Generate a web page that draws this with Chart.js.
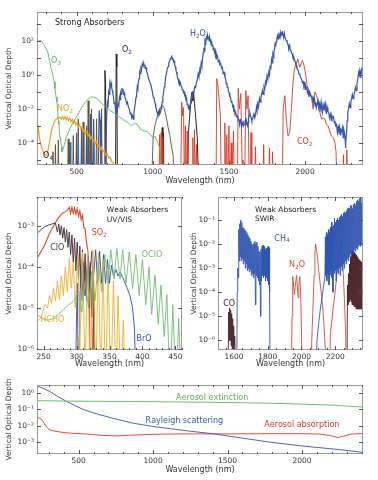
<!DOCTYPE html>
<html>
<head>
<meta charset="utf-8">
<script src="https://cdn.jsdelivr.net/npm/chart.js@4.4.1/dist/chart.umd.min.js"></script>
<style>
  html, body { margin: 0; padding: 0; background: #fff; }
  #wrap { position: relative; width: 378px; height: 480px; overflow: hidden; }
  .panel { position: absolute; }
</style>
</head>
<body>
<div id="wrap">
  <canvas class="panel" id="strong" width="378" height="187" style="left:0;top:0"></canvas>
  <canvas class="panel" id="uvvis" width="192" height="185" style="left:0;top:185px"></canvas>
  <canvas class="panel" id="swir" width="188" height="185" style="left:190px;top:185px"></canvas>
  <canvas class="panel" id="aerosol" width="378" height="110" style="left:0;top:370px"></canvas>
</div>
<script>
Chart.defaults.font.family = '"DejaVu Sans", sans-serif';
Chart.defaults.color = "#333";

// ---- Strong absorbers (wavelength nm, vertical optical depth) ----
const o3 = [[240, 70], [250, 95], [260, 110], [272, 90], [285, 60], [300, 35], [312, 20], [322, 7], [332, 2.5], [345, 0.9], [352, 0.4], [358, 0.16], [365, 0.05], [371, 0.025], [376, 0.006], [380, 0.002], [384, 0.0012], [388, 0.0004], [391, 0.0002], [395, 0.00015], [400, 6e-5], [404, 3e-5], [410, 4e-5], [420, 8e-5], [432, 2e-4], [445, 4e-4], [465, 1e-3], [490, 2.5e-3], [515, 6e-3], [540, 1.5e-2], [565, 3e-2], [590, 5e-2], [612, 5e-2], [635, 4e-2], [655, 2.5e-2], [690, 1.3e-2], [720, 8e-3], [755, 5e-3], [785, 3.2e-3], [810, 2.2e-3], [835, 1.6e-3], [860, 1e-3], [880, 1.4e-3], [900, 1.2e-3], [920, 6e-4], [945, 5e-4], [965, 4.5e-4], [985, 3e-4], [1000, 2e-4], [1015, 2.5e-4], [1030, 1.2e-4], [1045, 5e-5], [1060, 2e-6]];

const no2 = [[240, 5e-4], [246, 4e-4], [250, 7e-4], [256, 2e-4], [265, 8e-5], [275, 4e-5], [290, 2e-5], [305, 1.8e-5], [315, 5e-5], [325, 1.6e-4], [335, 5e-4], [345, 1.1e-3], [360, 2.2e-3], [375, 3e-3], [390, 3.3e-3], [400, 2.6e-3], [408, 3.6e-3], [416, 2.5e-3], [424, 3.5e-3], [432, 2.3e-3], [440, 3.2e-3], [448, 2e-3], [456, 2.8e-3], [464, 1.7e-3], [472, 2.4e-3], [480, 1.4e-3], [488, 2e-3], [496, 1.1e-3], [504, 1.6e-3], [512, 8.5e-4], [520, 1.2e-3], [528, 6.5e-4], [536, 9e-4], [544, 4.8e-4], [552, 6.6e-4], [560, 3.5e-4], [568, 4.8e-4], [576, 2.5e-4], [584, 3.4e-4], [592, 1.7e-4], [600, 2.4e-4], [608, 1.2e-4], [616, 1.7e-4], [624, 8.5e-5], [632, 1.2e-4], [640, 6e-5], [648, 8e-5], [656, 4e-5], [664, 5.5e-5], [672, 2.8e-5], [680, 3.8e-5], [690, 1.9e-5], [700, 2.4e-5], [710, 1.3e-5], [720, 1.5e-5], [730, 8e-6], [740, 7e-6], [750, 3e-6]];

const o4 = [[340, 1e-7], [345, 3e-5], [350, 1e-7], [356, 1e-7], [361, 8e-5], [366, 1e-7], [375, 1e-7], [380, 1.5e-4], [385, 1e-7], [440, 1e-7], [445, 1.7e-4], [450, 1e-7], [473, 1e-7], [478, 2.7e-4], [483, 1e-7], [506, 1e-7], [511, 2.6e-3], [516, 1e-7], [538, 1e-7], [543, 1.7e-3], [548, 1e-7], [571, 1e-7], [576, 3e-2], [581, 1e-7], [593, 1e-7], [598, 1e-2], [603, 1e-7], [626, 1e-7], [631, 2.6e-3], [636, 1e-7], [659, 1e-7], [664, 1e-2], [669, 1e-7], [990, 1e-7], [1003, 2.7e-4], [1014, 1e-3], [1025, 2.5e-3], [1036, 6e-3], [1047, 1e-2], [1058, 1.6e-2], [1066, 1.5e-2], [1073, 1.2e-2], [1082, 6e-3], [1091, 2.5e-3], [1101, 8e-4], [1112, 2.7e-4], [1123, 6e-5], [1134, 1.8e-5], [1142, 1e-7]];

const o2 = [[680, 1e-7], [686, 1.8], [690, 0.3], [694, 1e-7], [755, 1e-7], [760, 17], [764, 3], [768, 1e-7], [1058, 1e-7], [1062, 8e-4], [1066, 1e-7], [1070, 4e-4], [1074, 1e-7], [1222, 1e-7], [1235, 5e-4], [1245, 8e-3], [1252, 5e-2], [1258, 1e-1], [1263, 3e-2], [1268, 8e-2], [1274, 2e-2], [1282, 3e-3], [1292, 2e-4], [1302, 1e-7]];

const h2o = [[450, 1e-7], [457, 1.1e-4], [462, 1e-7], [494, 1e-7], [500, 4e-4], [506, 1e-7], [527, 1e-7], [533, 7e-4], [539, 1e-7], [560, 1e-7], [566, 1e-3], [572, 1e-7], [586, 1e-7], [592, 5e-3], [598, 1e-7], [605, 1e-7], [612, 2.5e-3], [618, 1e-7], [640, 1e-7], [648, 8e-3], [655, 2e-3], [660, 1e-7],
  [690, 1e-6], [697, 4e-3], [702, 0.02], [706, 0.012], [710, 0.1], [714, 0.07], [718, 0.3], [722, 0.2], [726, 0.35], [730, 0.2], [734, 0.12], [738, 0.08], [742, 0.05], [746, 0.02], [751, 0.025], [756, 0.008], [760, 0.012], [765, 0.004], [769, 0.015], [772, 0.02], [777, 0.015], [781, 0.05], [785, 0.035], [789, 0.09], [793, 0.07], [797, 0.17], [800, 0.12], [804, 0.15], [808, 0.08], [812, 0.09], [816, 0.05], [822, 0.04], [828, 0.02], [834, 0.025], [840, 0.012], [846, 0.01], [852, 0.005], [857, 0.006], [862, 0.003], [867, 0.004], [872, 0.0025], [876, 0.006], [880, 0.01], [885, 0.02], [890, 0.05], [894, 0.08], [898, 0.2], [902, 0.15], [905, 0.4], [910, 0.6], [914, 1.5], [918, 1.2], [922, 2.5], [926, 2], [930, 4], [934, 3.5], [937, 5.5], [941, 4], [945, 3.5], [948, 4], [952, 2.5], [956, 2.6], [960, 1.5], [965, 1.2], [970, 0.7], [975, 0.7], [981, 0.35], [985, 0.3], [990, 0.2], [996, 0.12],
  [1003, 0.05], [1008, 0.04], [1012, 0.03], [1016, 0.02], [1020, 0.012], [1024, 0.01], [1028, 0.006], [1032, 0.007], [1035, 0.004], [1042, 0.008], [1046, 0.005], [1050, 0.006], [1054, 0.01], [1058, 0.015], [1062, 0.025], [1066, 0.05], [1070, 0.08], [1075, 0.2], [1080, 0.3], [1085, 0.8], [1090, 1.2], [1095, 2.5], [1100, 3], [1105, 5], [1110, 6], [1115, 9], [1120, 10], [1124, 14], [1128, 8], [1132, 10], [1136, 6], [1140, 6.5], [1144, 3.5], [1148, 3], [1152, 2], [1155, 1.5], [1159, 1.2], [1162, 0.7], [1166, 0.6], [1170, 0.4], [1174, 0.45], [1178, 0.28], [1182, 0.32], [1186, 0.22], [1190, 0.2], [1194, 0.13], [1198, 0.14], [1202, 0.09], [1206, 0.1], [1210, 0.06], [1214, 0.065], [1218, 0.035], [1222, 0.04], [1226, 0.018], [1230, 0.02], [1234, 0.011], [1238, 0.014], [1243, 0.009],
  [1250, 0.03], [1254, 0.025], [1258, 0.06], [1262, 0.05], [1265, 0.1], [1270, 0.09], [1275, 0.2], [1281, 0.18], [1287, 0.37], [1292, 0.5], [1298, 1.2], [1303, 0.8], [1309, 2.2], [1313, 1.6], [1318, 5], [1322, 3.5], [1327, 9], [1331, 20], [1335, 40], [1338, 25], [1342, 80], [1345, 60], [1348, 150], [1351, 110], [1353, 200], [1356, 130], [1358, 140], [1361, 220], [1364, 150], [1367, 170], [1370, 100], [1373, 160], [1376, 120], [1379, 130], [1382, 80], [1386, 90], [1390, 50], [1394, 60], [1397, 30], [1401, 40], [1405, 22], [1409, 28], [1412, 13], [1416, 18], [1420, 10], [1425, 12], [1430, 6], [1435, 7], [1440, 4], [1446, 4.5], [1452, 2.5], [1457, 2.8], [1462, 1.2], [1468, 1.4], [1474, 0.7], [1478, 0.6], [1482, 0.3], [1486, 0.35], [1489, 0.18], [1493, 0.2], [1497, 0.1],
  [1501, 0.09], [1506, 0.05], [1510, 0.05], [1515, 0.025], [1519, 0.03], [1524, 0.014], [1528, 0.016], [1532, 0.008], [1536, 0.009], [1539, 0.005], [1544, 0.006], [1548, 0.0035], [1552, 0.0045], [1555, 0.003], [1558, 0.0035], [1561, 0.002], [1566, 0.0025], [1570, 0.0012], [1574, 0.002], [1577, 0.0025], [1580, 0.0015], [1583, 0.0008], [1588, 0.0015], [1592, 0.002], [1596, 0.001], [1600, 0.0012], [1605, 0.0018], [1610, 0.0025], [1614, 0.0012], [1618, 0.0015], [1622, 0.001], [1626, 0.0016], [1629, 0.003], [1632, 0.004], [1637, 0.006], [1641, 0.004], [1645, 0.003], [1650, 0.002], [1655, 0.0025], [1660, 0.004], [1664, 0.006], [1669, 0.003], [1674, 0.004], [1680, 0.012], [1684, 0.008],
  [1687, 0.02], [1693, 0.012], [1700, 0.04], [1705, 0.025], [1710, 0.05], [1715, 0.08], [1720, 0.12], [1725, 0.07], [1730, 0.2], [1735, 0.15], [1740, 0.4], [1745, 0.3], [1750, 0.9], [1755, 0.6], [1762, 1.5], [1766, 1], [1770, 3], [1775, 2.5], [1780, 8], [1784, 5], [1788, 15], [1792, 10], [1795, 25], [1799, 30], [1803, 80], [1806, 45], [1810, 90], [1814, 120], [1819, 200], [1823, 130], [1828, 220], [1832, 180], [1837, 320], [1841, 200], [1845, 280], [1849, 230], [1852, 380], [1855, 200], [1858, 250], [1861, 180], [1864, 280], [1868, 150], [1872, 130], [1876, 100], [1880, 110], [1884, 70], [1888, 60], [1892, 40], [1896, 55], [1900, 35], [1905, 30], [1910, 20], [1915, 18], [1920, 11], [1925, 12], [1930, 8], [1935, 6], [1940, 4], [1945, 3.5], [1950, 2], [1955, 1.8], [1960, 1.1], [1965, 1.2], [1970, 0.7], [1976, 0.6], [1982, 0.35], [1987, 0.4], [1992, 0.22], [1996, 0.3],
  [2000, 0.14], [2004, 0.22], [2008, 0.16], [2012, 0.2], [2015, 0.09], [2020, 0.12], [2025, 0.05], [2030, 0.09], [2035, 0.07], [2040, 0.05], [2044, 0.06], [2048, 0.03], [2053, 0.045], [2058, 0.025], [2062, 0.035], [2066, 0.015], [2070, 0.025], [2074, 0.012], [2080, 0.02], [2085, 0.03], [2090, 0.012], [2095, 0.018], [2100, 0.01], [2105, 0.025], [2109, 0.01], [2113, 0.006], [2118, 0.014], [2122, 0.008], [2126, 0.018], [2130, 0.012], [2135, 0.02], [2140, 0.005], [2145, 0.012], [2150, 0.007], [2155, 0.006], [2160, 0.003], [2166, 0.005], [2172, 0.002], [2176, 0.004], [2180, 0.003], [2186, 0.0035], [2192, 0.0015], [2196, 0.002], [2200, 0.001], [2206, 0.0012], [2212, 0.0004], [2217, 0.0009], [2222, 0.0006], [2226, 0.0009], [2230, 0.0003], [2235, 0.0006], [2240, 0.0005], [2245, 0.0008], [2250, 0.0002], [2254, 0.0006], [2258, 0.0004], [2262, 0.0002], [2265, 5e-5], [2268, 0.0001], [2272, 0.0004], [2276, 0.002], [2280, 0.006], [2285, 0.01], [2290, 0.02], [2295, 0.012], [2300, 0.025], [2305, 0.04], [2310, 0.07], [2315, 0.04], [2320, 0.06], [2325, 0.1], [2330, 0.18], [2335, 0.12], [2340, 0.3], [2345, 0.5], [2350, 1.2], [2353, 0.8], [2356, 1.6], [2359, 1], [2362, 0.7], [2366, 1.8], [2370, 2.2], [2374, 1.2], [2378, 1.5]];

const co2 = [[1040, 1e-7], [1045, 3e-4], [1050, 1e-7], [1055, 4e-4], [1060, 1e-7], [1066, 2e-4], [1072, 1e-7],
  [1182, 1e-7], [1190, 0.025], [1196, 0.004], [1202, 0.012], [1208, 1e-7], [1214, 1e-3], [1219, 1e-7], [1226, 5e-4], [1231, 1e-7],
  [1258, 1e-7], [1263, 2e-4], [1268, 1e-7], [1274, 6e-4], [1279, 1e-7], [1286, 8e-5], [1291, 1e-7],
  [1415, 1e-7], [1420, 0.6], [1428, 0.2], [1436, 0.03], [1444, 0.004], [1450, 1e-7],
  [1468, 1e-7], [1473, 1.5e-3], [1478, 1e-7], [1486, 3e-4], [1491, 1e-7], [1500, 1e-3], [1505, 1e-7], [1515, 1e-4], [1520, 1e-7], [1530, 5e-4], [1535, 1e-7],
  [1555, 1e-7], [1561, 0.16], [1568, 0.01], [1578, 0.08], [1586, 1e-5], [1592, 1e-7], [1604, 1e-6], [1611, 0.12], [1618, 0.01], [1626, 0.06], [1632, 1e-6],
  [1640, 1e-7], [1645, 4e-4], [1650, 1e-7], [1668, 1e-7], [1674, 6e-5], [1680, 1e-7],
  [1722, 1e-7], [1728, 8e-5], [1733, 1e-7], [1760, 1e-7], [1766, 5e-5], [1772, 1e-7], [1782, 1e-7], [1786, 3e-5], [1791, 1e-7],
  [1850, 1e-7], [1856, 0.01], [1867, 0.06], [1878, 0.0016], [1888, 2.5e-4], [1899, 4e-4], [1910, 0.01], [1920, 0.3], [1930, 2.2], [1940, 4], [1952, 8.7], [1965, 2.8], [1975, 5], [1983, 7], [1993, 3.5], [2005, 0.9], [2013, 0.23], [2022, 0.15], [2031, 0.1], [2042, 0.05], [2053, 0.01], [2064, 0.1], [2075, 0.06], [2086, 0.025], [2097, 0.006], [2108, 0.0025], [2118, 0.003], [2130, 0.0025], [2140, 0.0012], [2151, 0.001], [2162, 5e-4], [2173, 2.5e-4], [2185, 2e-4], [2195, 1.1e-4], [2203, 3e-5], [2210, 1e-7],
  [2245, 1e-7], [2252, 2e-5], [2258, 1e-7], [2268, 1e-7], [2274, 4e-5], [2280, 1e-7]];

// ---- Weak absorbers UV/VIS ----
const so2 = [[240, 1.6e-4], [245, 2.2e-4], [252, 3.5e-4], [258, 6e-4], [262, 8e-4], [268, 1.2e-3], [273, 1.6e-3], [278, 2e-3], [283, 2.2e-3], [286, 2.4e-3], [289, 2.8e-3], [291, 2e-3], [293, 2.8e-3], [295, 2e-3], [297, 2.7e-3], [299, 1.9e-3], [301, 2.6e-3], [303, 1.7e-3], [305, 2.3e-3], [307, 1.4e-3], [309, 1.8e-3], [311, 9e-4], [313, 8.5e-4], [315, 4e-4], [317, 2.5e-4], [319, 1e-4], [320, 3e-7], [324, 3e-7], [326, 5e-5], [328, 3e-7]];

const clo = [[240, 6.5e-4], [246, 8e-4], [252, 9.5e-4], [258, 1.05e-3], [264, 1.12e-3], [268, 1.15e-3], [271, 7e-4], [273, 1.1e-3], [275, 6e-4], [277, 1e-3], [279, 5e-4], [281, 9e-4], [283, 4e-4], [285, 8e-4], [287, 3e-4], [289, 7e-4], [291, 2e-4], [293, 6e-4], [295, 1.3e-4], [297, 5e-4], [299, 8e-5], [301, 4e-4], [303, 5e-5], [305, 3.2e-4], [307, 3e-5], [309, 2.6e-4], [311, 2e-5], [313, 2.1e-4], [315, 1.5e-5], [317, 1.7e-4], [319, 1e-5], [321, 1.3e-4], [323, 6e-6], [325, 1e-4], [327, 1e-7]];

const hcho = [[240, 4.5e-6], [246, 6e-6], [252, 1.2e-5], [256, 1e-5], [259, 2e-5], [262, 1.3e-5], [265, 3e-5], [268, 1.5e-5], [271, 4.5e-5], [274, 1.6e-5], [277, 6e-5], [280, 2e-5], [283, 1e-4], [286, 2.5e-5], [289, 1.6e-4], [292, 3e-5], [295, 1.3e-4], [298, 1e-5], [302, 2.1e-4], [305, 1e-6], [309, 2.3e-4], [313, 3e-7], [317, 2.6e-4], [321, 1e-7], [325, 2.6e-4], [329, 1e-7], [333, 2.2e-4], [337, 1e-7], [340, 1.5e-4], [344, 1e-7], [348, 9e-5], [352, 1e-7], [356, 4.5e-5], [360, 1e-7], [363, 2e-5], [367, 1e-7], [371, 5e-6], [374, 1e-7]];

const bro = [[298, 1e-7], [301, 4e-5], [303, 1e-7], [306, 8e-5], [308, 1.5e-5], [311, 1.3e-4], [313, 2e-5], [317, 1.8e-4], [319, 3e-5], [323, 2.4e-4], [325, 4e-5], [329, 2.6e-4], [332, 4e-5], [335, 2.4e-4], [338, 4e-5], [341, 2e-4], [344, 4e-5], [347, 1.5e-4], [350, 4e-5], [353, 1.1e-4], [356, 6e-5], [360, 8.5e-5], [363, 6e-5], [366, 7.5e-5], [370, 5.5e-5], [373, 4.3e-5], [377, 3e-5], [381, 2e-5], [385, 1e-5], [388, 3e-6], [390, 1e-7]];

const oclo = [[240, 7e-6], [248, 5.5e-6], [256, 5e-6], [264, 5.5e-6], [272, 7e-6], [280, 9e-6], [288, 1.2e-5], [296, 1.5e-5], [303, 2.5e-5], [308, 8e-6], [313, 4.4e-5], [318, 1e-5], [323, 7.8e-5], [328, 1.5e-5], [333, 1.3e-4], [338, 2.5e-5], [343, 2e-4], [348, 4e-5], [352, 2.6e-4], [357, 5e-5], [361, 2.8e-4], [366, 5e-5], [370, 2.6e-4], [375, 4e-5], [380, 2.3e-4], [385, 3e-5], [390, 2e-4], [395, 2e-5], [400, 1.5e-4], [405, 1.2e-5], [410, 1e-4], [414, 7e-6], [419, 6.3e-5], [424, 4e-6], [428, 3.6e-5], [433, 2e-6], [437, 2.1e-5], [442, 1e-7], [446, 1.2e-5], [451, 1e-7], [455, 5.6e-6], [459, 1e-7]];

// ---- Weak absorbers SWIR ----
const ch4 = [[1615, 1e-9], [1619, 1e-4], [1622, 1e-3], [1625, 4e-4], [1628, 4e-2], [1631, 2e-3], [1634, 7e-2], [1637, 3e-3], [1640, 1e-1], [1643, 2e-3], [1646, 8e-2], [1649, 2.5e-3], [1652, 5e-2], [1655, 1.5e-3], [1658, 4.5e-2], [1661, 2e-3], [1664, 4e-2], [1667, 1e-3], [1670, 3.5e-2], [1673, 1.5e-3], [1676, 3e-2], [1679, 8e-4], [1682, 2.5e-2], [1685, 1e-3], [1688, 2e-2], [1691, 7e-4], [1694, 1.7e-2], [1697, 9e-4], [1700, 1.3e-2], [1703, 5e-4], [1706, 1e-2], [1709, 6e-4], [1712, 9e-3], [1715, 4e-4], [1718, 1.1e-2], [1721, 6e-4], [1724, 1.3e-2], [1727, 3e-5], [1730, 1e-2], [1733, 5e-4], [1736, 1.2e-2], [1739, 4e-4], [1742, 8e-3], [1745, 3e-4], [1748, 5e-3], [1751, 2e-4], [1754, 4.5e-3], [1757, 1e-5], [1760, 6e-3], [1763, 3e-4], [1766, 8e-3], [1769, 5e-4], [1772, 9e-3], [1775, 4e-4], [1778, 8e-3], [1781, 5e-4], [1784, 6e-3], [1787, 3e-4], [1790, 6.5e-3], [1793, 4e-4], [1796, 7e-3], [1799, 3e-4], [1802, 8e-3], [1805, 2e-4], [1808, 7e-3], [1811, 1e-4], [1815, 1e-9],
  [2082, 1e-9], [2092, 1e-6], [2102, 5e-6], [2112, 2e-5], [2122, 6e-5], [2132, 2e-4], [2139, 4e-4], [2142, 2e-2], [2145, 5e-4], [2148, 3e-2], [2151, 3e-4], [2154, 2.5e-2], [2157, 6e-4], [2160, 4e-2], [2163, 2e-4], [2166, 3e-2], [2169, 5e-4], [2172, 5e-2], [2175, 8e-4], [2178, 8e-2], [2181, 4e-4], [2184, 5e-2], [2187, 1e-4], [2190, 6e-2], [2193, 6e-4], [2196, 1.2e-1], [2199, 8e-4], [2202, 8e-2], [2205, 3e-4], [2208, 1e-1], [2211, 9e-4], [2214, 1.2e-1], [2217, 6e-4], [2220, 1e-1], [2223, 1e-3], [2226, 1.3e-1], [2229, 5e-4], [2232, 1.5e-1], [2235, 1.2e-3], [2238, 1.7e-1], [2241, 8e-4], [2244, 1.4e-1], [2247, 1.5e-3], [2250, 2e-1], [2253, 1e-3], [2256, 2.2e-1], [2259, 2e-3], [2262, 2e-1], [2265, 1.5e-3], [2268, 2.5e-1], [2271, 2.5e-3], [2274, 3e-1], [2277, 2e-3], [2280, 3.2e-1], [2283, 3e-3], [2286, 3e-1], [2289, 4e-3], [2292, 4e-1], [2295, 3e-3], [2298, 4e-1], [2301, 5e-3], [2304, 3e-1], [2307, 4e-3], [2310, 4.5e-1], [2313, 6e-3], [2316, 5e-1], [2319, 5e-3], [2322, 4e-1], [2325, 7e-3], [2328, 6e-1], [2331, 6e-3], [2334, 7e-1], [2337, 8e-3], [2340, 6e-1], [2343, 1e-2], [2346, 8e-1], [2349, 8e-3], [2352, 9e-1], [2355, 1e-2], [2358, 5e-1], [2361, 1.2e-2], [2364, 7e-1]];

const n2o = [[1938, 1e-9], [1944, 1e-5], [1948, 4.5e-4], [1953, 2e-4], [1958, 8e-5], [1964, 2e-4], [1971, 5e-4], [1975, 2e-4], [1980, 6e-5], [1985, 2e-4], [1990, 4.5e-4], [1995, 1e-4], [2000, 3e-6], [2005, 1e-9],
  [2053, 1e-9], [2061, 1e-6], [2069, 3e-5], [2075, 5e-4], [2080, 5e-3], [2084, 1e-2], [2089, 6e-3], [2095, 3e-3], [2101, 1e-3], [2109, 3e-4], [2117, 1e-4], [2125, 3e-5], [2133, 5e-6], [2141, 5e-7], [2149, 1e-9],
  [2162, 1e-9], [2172, 2e-6], [2187, 2e-5], [2202, 1.5e-4], [2214, 1e-3], [2224, 5e-3], [2232, 1.2e-2], [2238, 8e-3], [2244, 2e-3], [2250, 3e-4], [2256, 3e-5], [2262, 2e-6], [2268, 1e-9]];

const co = [[1563, 1e-9], [1568, 1.5e-5], [1571, 1e-6], [1574, 2.2e-5], [1577, 1e-6], [1580, 1.8e-5], [1583, 6e-7], [1586, 1.3e-5], [1589, 4e-7], [1592, 8e-6], [1595, 3e-7], [1598, 4e-6], [1601, 2e-7], [1604, 1.5e-6], [1608, 1e-9],
  [2269, 1e-9], [2273, 2e-4], [2276, 3e-5], [2279, 6e-4], [2282, 4e-5], [2285, 1.5e-3], [2288, 5e-5], [2291, 3e-3], [2294, 4e-5], [2297, 5e-3], [2300, 3e-5], [2303, 6e-3], [2306, 3e-5], [2309, 5e-3], [2312, 2.5e-5], [2315, 4.5e-3], [2318, 2.5e-5], [2321, 4e-3], [2324, 2e-5], [2327, 3.5e-3], [2330, 2e-5], [2333, 3e-3], [2336, 2e-5], [2339, 2.5e-3], [2342, 2e-5], [2345, 2.2e-3], [2348, 2e-5], [2351, 2e-3], [2354, 2e-5], [2357, 1.8e-3], [2360, 2e-5], [2363, 1.8e-3], [2366, 2e-5]];

// ---- Scattering / aerosol ----
const aerosolExt = [[220, 0.34], [400, 0.32], [600, 0.31], [866, 0.3], [1200, 0.28], [1540, 0.26], [1800, 0.235], [1990, 0.21], [2212, 0.18], [2300, 0.16], [2410, 0.14]];
const rayleigh = [[220, 2.6], [260, 1.9], [307, 1.2], [360, 0.6], [420, 0.3], [480, 0.16], [530, 0.1], [590, 0.065], [644, 0.047], [750, 0.026], [868, 0.0145], [980, 0.0098], [1093, 0.0072], [1250, 0.0048], [1407, 0.0033], [1590, 0.0019], [1766, 0.0011], [1880, 8.2e-4], [1990, 6.3e-4], [2100, 5e-4], [2214, 4e-4], [2310, 3.2e-4], [2410, 2.5e-4]];
const aerosolAbs = [[220, 0.034], [235, 0.03], [250, 0.025], [262, 0.018], [274, 0.0115], [285, 0.0085], [296, 0.0068], [312, 0.0055], [330, 0.005], [380, 0.0042], [450, 0.0036], [560, 0.0032], [650, 0.0027], [760, 0.0025], [866, 0.0028], [1000, 0.0031], [1200, 0.0033], [1500, 0.0033], [1800, 0.0034], [2000, 0.0034], [2120, 0.0032], [2190, 0.0026], [2240, 0.002], [2280, 0.0024], [2330, 0.0032], [2410, 0.0035]];

// ---- helpers ----
const SUP = { "-": "\u207B", "0": "\u2070", "1": "\u00B9", "2": "\u00B2", "3": "\u00B3", "4": "\u2074", "5": "\u2075", "6": "\u2076", "7": "\u2077", "8": "\u2078", "9": "\u2079" };
const pow10 = (e) => "10" + String(e).split("").map(c => SUP[c]).join("");

function series(arr, color, width = 1) {
  return { data: arr.map(([x, y]) => ({ x, y })), borderColor: color, borderWidth: width, pointRadius: 0, tension: 0, fill: false };
}

// box and inward tick marks on all four sides
const framePlugin = {
  id: "frame",
  afterDatasetsDraw(chart, args, opts) {
    const { ctx, chartArea: a, scales: { x, y } } = chart;
    ctx.save();
    ctx.strokeStyle = "#9a9a9a";
    ctx.lineWidth = 1;
    ctx.strokeRect(Math.round(a.left) + 0.5, Math.round(a.top) + 0.5, Math.round(a.width) - 1, Math.round(a.height) - 1);
    ctx.strokeStyle = "#555";
    ctx.beginPath();
    const start = Math.ceil(x.min / opts.minor) * opts.minor;
    for (let v = start; v <= x.max; v += opts.minor) {
      const px = Math.round(x.getPixelForValue(v)) + 0.5;
      const len = v % opts.major === 0 ? 4 : 2;
      ctx.moveTo(px, a.bottom); ctx.lineTo(px, a.bottom - len);
      ctx.moveTo(px, a.top); ctx.lineTo(px, a.top + len);
    }
    for (let e = Math.ceil(Math.log10(y.min)); e <= Math.floor(Math.log10(y.max)); e++) {
      const py = Math.round(y.getPixelForValue(Math.pow(10, e))) + 0.5;
      ctx.moveTo(a.left, py); ctx.lineTo(a.left + 4, py);
      ctx.moveTo(a.right, py); ctx.lineTo(a.right - 4, py);
    }
    ctx.stroke();
    ctx.restore();
  }
};

// text labels with "_" marking a subscript character
function drawRich(ctx, text, x, y, color, size, align) {
  const runs = [];
  for (let i = 0; i < text.length; i++) {
    if (text[i] === "_") { runs.push([text[i + 1], true]); i++; } else runs.push([text[i], false]);
  }
  const font = (sub) => `${sub ? size * 0.72 : size}px "DejaVu Sans", sans-serif`;
  ctx.save();
  ctx.fillStyle = color;
  ctx.textBaseline = "middle";
  ctx.textAlign = "left";
  let w = 0;
  runs.forEach(([c, s]) => { ctx.font = font(s); w += ctx.measureText(c).width; });
  let cx = align === "center" ? x - w / 2 : x;
  runs.forEach(([c, s]) => {
    ctx.font = font(s);
    ctx.fillText(c, cx, y + (s ? size * 0.3 : 0));
    cx += ctx.measureText(c).width;
  });
  ctx.restore();
}

const notesPlugin = {
  id: "notes",
  afterDatasetsDraw(chart, args, opts) {
    const { ctx, scales: { x, y } } = chart;
    (opts.items || []).forEach(n => {
      drawRich(ctx, n.t, x.getPixelForValue(n.x), y.getPixelForValue(n.y), n.c, n.s || 8, n.a || "left");
    });
  }
};

function xAxis(min, max, ticks, height, titlePad) {
  return {
    type: "linear", min, max,
    afterBuildTicks: (s) => { s.ticks = ticks.map(v => ({ value: v })); },
    afterFit: (s) => { s.height = height; },
    grid: { display: false, drawTicks: false }, border: { display: false },
    ticks: { autoSkip: false, maxRotation: 0, padding: 3, color: "#333", font: { size: 7.5 }, callback: v => String(v) },
    title: { display: true, text: "Wavelength (nm)", color: "#333", font: { size: 8 }, padding: { top: 0, bottom: titlePad } },
  };
}

function yAxis(min, max, labelled, width, titlePad) {
  return {
    type: "logarithmic", min, max,
    afterBuildTicks: (s) => {
      const out = [];
      for (let e = Math.ceil(Math.log10(min)); e <= Math.floor(Math.log10(max)); e++) out.push({ value: Math.pow(10, e) });
      s.ticks = out;
    },
    afterFit: (s) => { s.width = width; },
    grid: { display: false, drawTicks: false }, border: { display: false },
    ticks: {
      autoSkip: false, padding: 3, color: "#333", font: { size: 7.5 },
      callback: (v) => { const e = Math.round(Math.log10(v)); return labelled.includes(e) ? pow10(e) : ""; },
    },
    title: { display: true, text: "Vertical Optical Depth", color: "#333", font: { size: 7.5 }, padding: { top: titlePad, bottom: 0 } },
  };
}

function makePanel(id, datasets, x, y, pad, frame, notes) {
  return new Chart(document.getElementById(id), {
    type: "line",
    data: { datasets },
    plugins: [framePlugin, notesPlugin],
    options: {
      responsive: false,
      animation: false,
      layout: { padding: pad },
      plugins: { legend: { display: false }, tooltip: { enabled: false }, frame, notes: { items: notes } },
      scales: { x, y },
    },
  });
}

// ---- Strong absorbers ----
makePanel("strong",
  [
    series(o3, "#62b462", 0.9),
    series(no2, "#f0a020", 1.2),
    series(o4, "#5c5236", 0.9),
    series(h2o, "#3658a8", 1.2),
    series(co2, "#d63c28", 0.9),
    series(o2, "#2e1f1f", 1),
  ],
  xAxis(240, 2380, [500, 1000, 1500, 2000], 22, 1),
  yAxis(5e-6, 5e3, [-4, -2, 0, 2], 37, 5),
  { top: 12, right: 15, left: 0, bottom: 0 },
  { minor: 100, major: 500 },
  [
    { t: "Strong Absorbers", x: 358, y: 1150, c: "#222", s: 8 },
    { t: "O_3", x: 332, y: 6.6, c: "#62b462" },
    { t: "O_2", x: 798, y: 30, c: "#2e1f1f" },
    { t: "H_2O", x: 1244, y: 260, c: "#3658a8" },
    { t: "NO_2", x: 371, y: 0.01, c: "#f0a020" },
    { t: "O_4", x: 280, y: 1.6e-5, c: "#2e1f1f" },
    { t: "CO_2", x: 1946, y: 1.15e-4, c: "#d63c28" },
  ]
);

// ---- Weak absorbers UV/VIS ----
makePanel("uvvis",
  [
    series(oclo, "#74bc74", 0.9),
    series(hcho, "#f0b030", 0.9),
    series(bro, "#2e4fa0", 0.9),
    series(clo, "#4d3a45", 1),
    series(so2, "#e0452a", 1.1),
  ],
  xAxis(240, 460, [250, 300, 350, 400, 450], 20, 1),
  yAxis(9.5e-7, 5e-3, [-6, -5, -4, -3], 37, 5),
  { top: 12, right: 10, left: 0, bottom: 0 },
  { minor: 10, major: 50 },
  [
    { t: "Weak Absorbers", x: 346, y: 2.4e-3, c: "#222", s: 7.5 },
    { t: "UV/VIS", x: 346, y: 1.4e-3, c: "#222", s: 7.5 },
    { t: "SO_2", x: 323, y: 6.6e-4, c: "#e0452a" },
    { t: "ClO", x: 260, y: 2.9e-4, c: "#4d3a45" },
    { t: "OClO", x: 399, y: 1.95e-4, c: "#74bc74" },
    { t: "HCHO", x: 245, y: 5.1e-6, c: "#f0b030" },
    { t: "BrO", x: 391, y: 1.8e-6, c: "#2e4fa0" },
  ]
);

// ---- Weak absorbers SWIR ----
makePanel("swir",
  [
    series(ch4, "#2f55b0", 0.9),
    series(n2o, "#d94a35", 0.9),
    series(co, "#4a2226", 0.9),
  ],
  xAxis(1505, 2365, [1600, 1800, 2000, 2200], 20, 1),
  yAxis(4e-7, 0.9, [-6, -5, -4, -3, -2, -1], 28, 0),
  { top: 12, right: 15, left: 0, bottom: 0 },
  { minor: 50, major: 200 },
  [
    { t: "Weak Absorbers", x: 1724, y: 0.26, c: "#222", s: 7.5 },
    { t: "SWIR", x: 1724, y: 0.11, c: "#222", s: 7.5 },
    { t: "CH_4", x: 1839, y: 0.017, c: "#2f55b0" },
    { t: "N_2O", x: 1926, y: 1.3e-3, c: "#d94a35" },
    { t: "CO", x: 1536, y: 3.4e-5, c: "#4a2226" },
  ]
);

// ---- Scattering and aerosol ----
makePanel("aerosol",
  [
    series(aerosolExt, "#5cb85c", 0.9),
    series(rayleigh, "#3a56a8", 0.9),
    series(aerosolAbs, "#d8402a", 0.9),
  ],
  xAxis(220, 2410, [500, 1000, 1500, 2000], 26, 5),
  yAxis(2e-4, 3, [-3, -2, -1, 0], 37, 5),
  { top: 15, right: 15, left: 0, bottom: 0 },
  { minor: 100, major: 500 },
  [
    { t: "Aerosol extinction", x: 1397, y: 0.48, c: "#5cb85c", a: "center" },
    { t: "Rayleigh scattering", x: 1210, y: 0.02, c: "#3a56a8", a: "center" },
    { t: "Aerosol absorption", x: 1999, y: 0.0115, c: "#d8402a", a: "center" },
  ]
);
</script>
</body>
</html>
